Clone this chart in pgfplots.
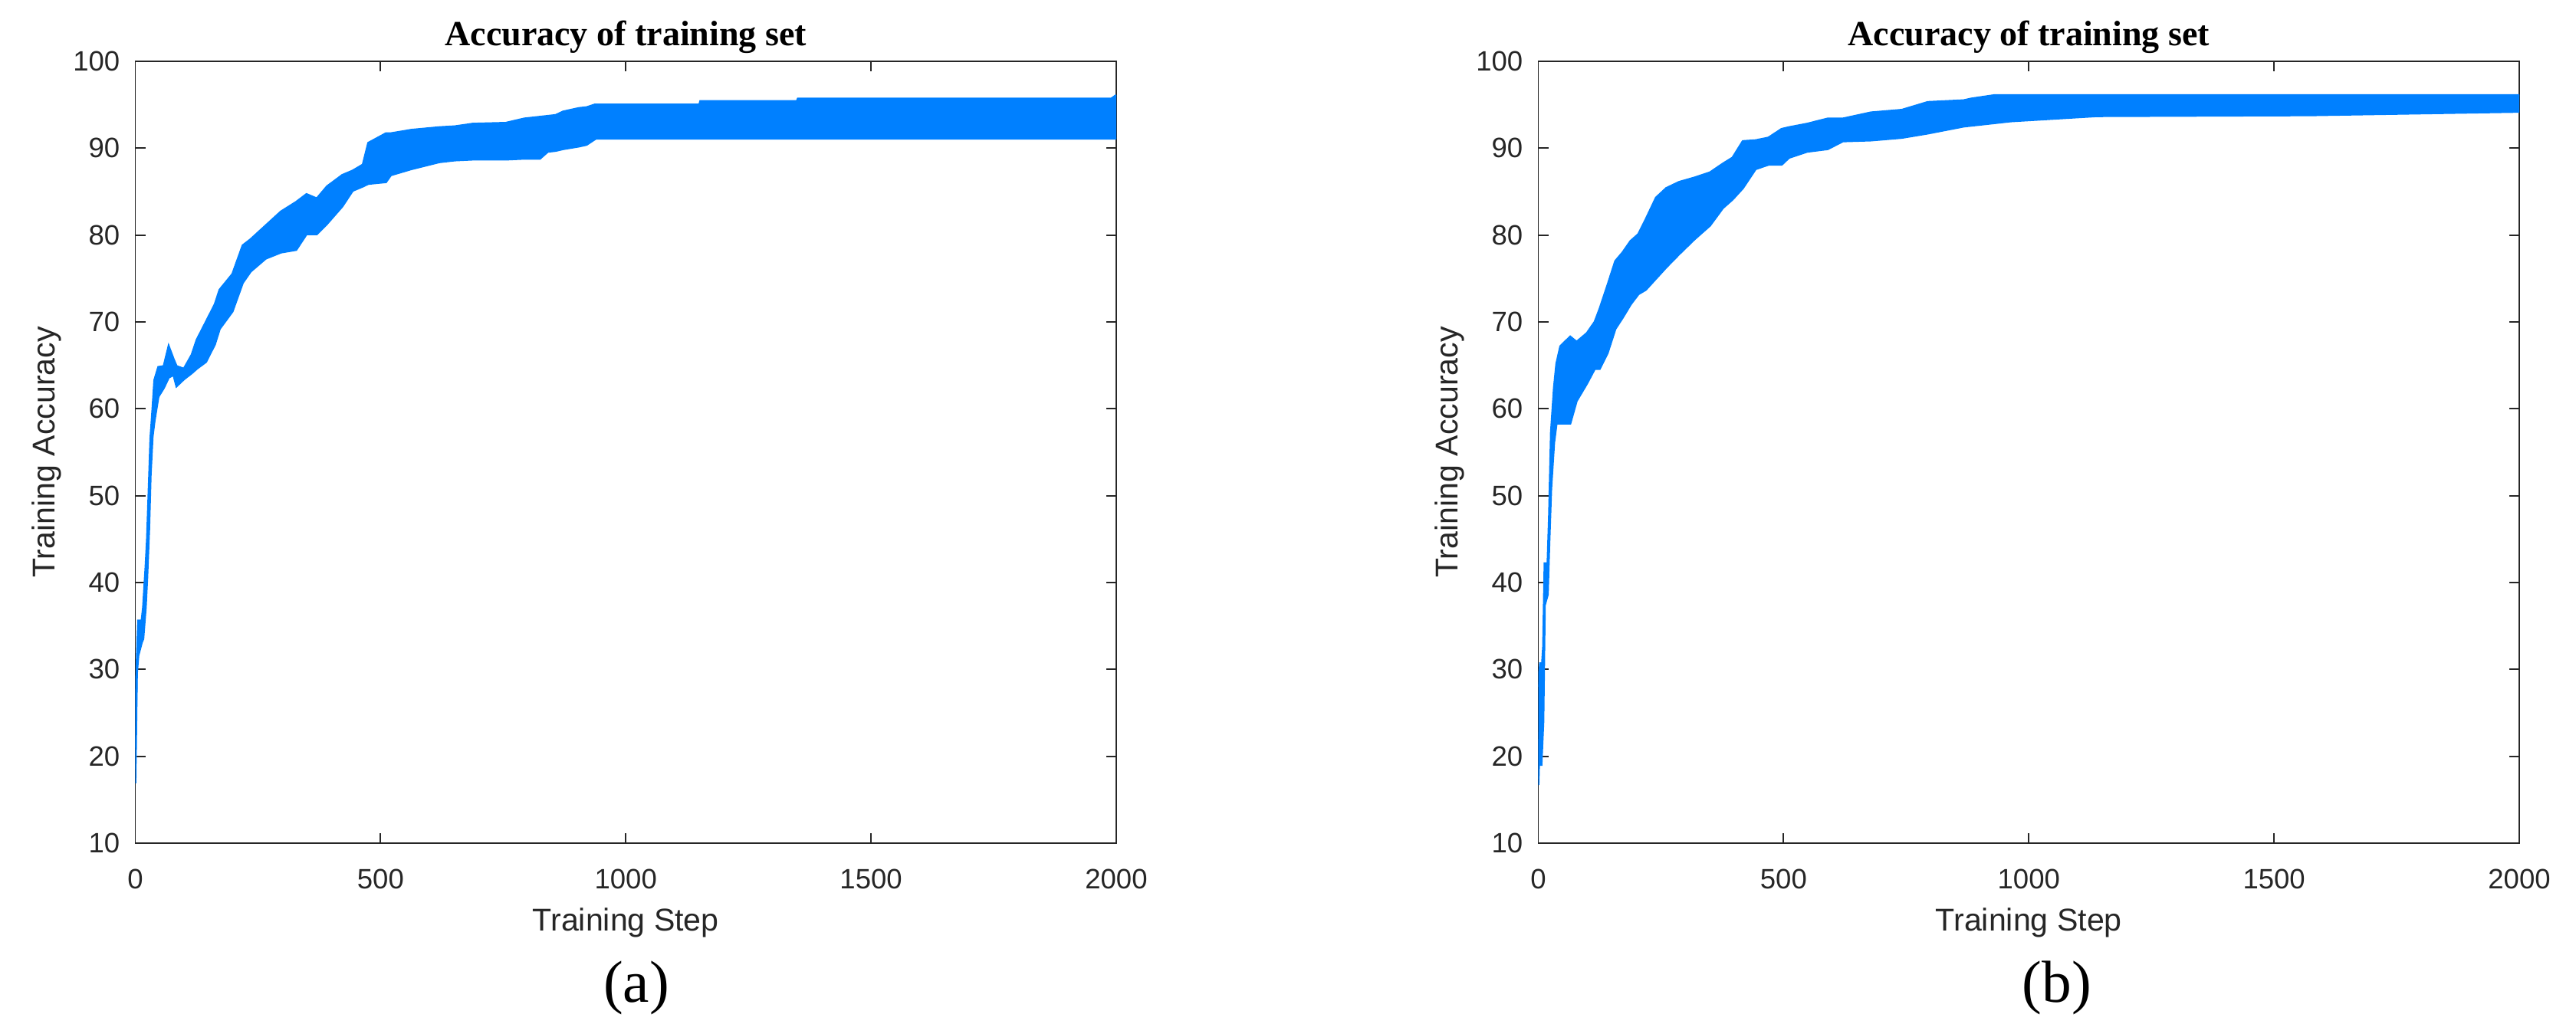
\documentclass[border=0pt]{standalone}
\usepackage{fontspec}
\setmainfont{Liberation Sans}
\newfontfamily\timesf{Liberation Serif}
\usepackage{pgfplots}
\usepackage{pgfplotstable}
\pgfplotsset{compat=1.18}
\usepgfplotslibrary{fillbetween}

\definecolor{band}{RGB}{0,128,255}
\definecolor{axisgray}{RGB}{38,38,38}

% step, upper and lower edge of the noisy accuracy band
\pgfplotstableread{
step up lo
0 21.0 16.9
3 30.6 29.5
6 35.6 31.6
13 35.6 33.1
16 37.1 33.5
21 41.7 37.1
24 44.9 40.5
28 51.5 46.2
31 56.6 52.3
35 59.8 56.8
39 63.3 58.6
47 64.8 61.4
58 64.9 62.4
68 67.2 63.6
78 65.7 63.9
84 64.9 62.6
99 64.6 63.4
115 66.2 64.1
125 67.9 64.6
144 70.0 65.4
162 72.0 67.4
172 73.7 69.2
198 75.5 71.2
219 78.8 74.5
235 79.5 75.8
266 81.1 77.3
297 82.7 78.0
328 83.8 78.3
349 84.7 80.1
370 84.2 80.1
391 85.6 81.3
422 86.9 83.3
443 87.4 85.1
464 88.1 85.6
475 90.6 85.9
511 91.7 86.1
521 91.7 86.9
563 92.1 87.6
620 92.4 88.4
651 92.5 88.6
688 92.8 88.7
755 92.9 88.7
793 93.4 88.8
825 93.6 88.8
841 93.7 89.6
857 93.8 89.7
872 94.2 89.9
904 94.6 90.2
920 94.7 90.4
936 95.0 91.0
939 95.0 91.1
1150 95.0 91.1
1152 95.4 91.1
1349 95.4 91.1
1351 95.7 91.1
1990 95.7 91.1
2000 96.1 91.1
}\dataA

\pgfplotstableread{
step up lo
0 28.0 16.7
4 30.8 25.0
6 29.0 18.9
10 32.6 24.0
13 42.2 37.4
19 42.2 38.6
22 47.5 44.2
26 57.3 50.8
32 62.4 56.1
37 65.2 58.3
45 67.2 58.3
65 68.3 58.3
78 67.7 60.9
99 68.7 62.9
115 70.0 64.6
125 71.5 64.6
141 74.2 66.4
157 77.0 69.2
172 78.0 70.5
188 79.3 72.0
204 80.1 73.2
219 81.8 73.7
240 84.3 75.0
261 85.4 76.3
287 86.1 77.8
318 86.6 79.5
350 87.2 81.1
376 88.2 83.1
396 88.9 84.1
417 90.8 85.4
443 90.9 87.6
469 91.2 88.1
496 92.2 88.1
511 92.4 88.9
548 92.8 89.6
590 93.4 89.9
621 93.4 90.8
678 94.1 90.9
741 94.4 91.2
794 95.3 91.7
867 95.5 92.5
883 95.7 92.6
931 96.1 92.9
963 96.1 93.1
1140 96.1 93.7
1573 96.1 93.8
2000 96.1 94.2
}\dataB

\pgfplotsset{
  panel/.style={
    scale only axis, width=127.95mm, height=102mm,
    xmin=0, xmax=2000, ymin=10, ymax=100,
    xtick={0,500,...,2000}, ytick={10,20,...,100},
    axis line style={draw=axisgray, line width=0.55pt},
    every tick/.style={draw=axisgray, line width=0.55pt},
    tick align=inside, major tick length=1.3mm,
    /pgf/number format/assume math mode=true,
    /pgf/number format/1000 sep={},
    scaled x ticks=false,
    tick label style={font=\fontsize{10.4}{12}\selectfont, text=axisgray},
    xticklabel style={anchor=north, inner sep=0pt, yshift=-3.3mm},
    yticklabel style={anchor=east, inner sep=0pt, xshift=-1.95mm},
    every axis title shift=0pt,
    title style={at={(axis description cs:0.5,1.0196)}, anchor=base, inner sep=0pt,
      font=\timesf\bfseries\fontsize{13.1}{15}\selectfont},
    xlabel style={at={(axis description cs:0.5,-0.1127)}, anchor=base, inner sep=0pt,
      font=\fontsize{11.7}{14}\selectfont, text=axisgray},
    ylabel style={at={(axis description cs:-0.0817,0.5)}, anchor=base, inner sep=0pt,
      font=\fontsize{11.7}{14}\selectfont, text=axisgray},
    title={Accuracy of training set},
    xlabel={Training Step},
    ylabel={Training Accuracy},
  },
  edge/.style={draw=band, line width=0.8pt},
}

\begin{document}
\begin{tikzpicture}
\path (0,0) rectangle (336mm,134.9mm);

\begin{axis}[panel, at={(17.65mm,24.9mm)}, anchor=south west]
\addplot[edge, name path=upA] table[x=step, y=up] {\dataA};
\addplot[edge, name path=loA] table[x=step, y=lo] {\dataA};
\addplot[band] fill between[of=upA and loA];
\end{axis}

\begin{axis}[panel, at={(200.65mm,24.9mm)}, anchor=south west]
\addplot[edge, name path=upB] table[x=step, y=up] {\dataB};
\addplot[edge, name path=loB] table[x=step, y=lo] {\dataB};
\addplot[band] fill between[of=upB and loB];
\end{axis}

\node[anchor=base, inner sep=0pt, font=\timesf\fontsize{22}{26}\selectfont] at (83mm,4.1mm) {(a)};
\node[anchor=base, inner sep=0pt, font=\timesf\fontsize{22}{26}\selectfont] at (268.3mm,4.1mm) {(b)};
\end{tikzpicture}
\end{document}
